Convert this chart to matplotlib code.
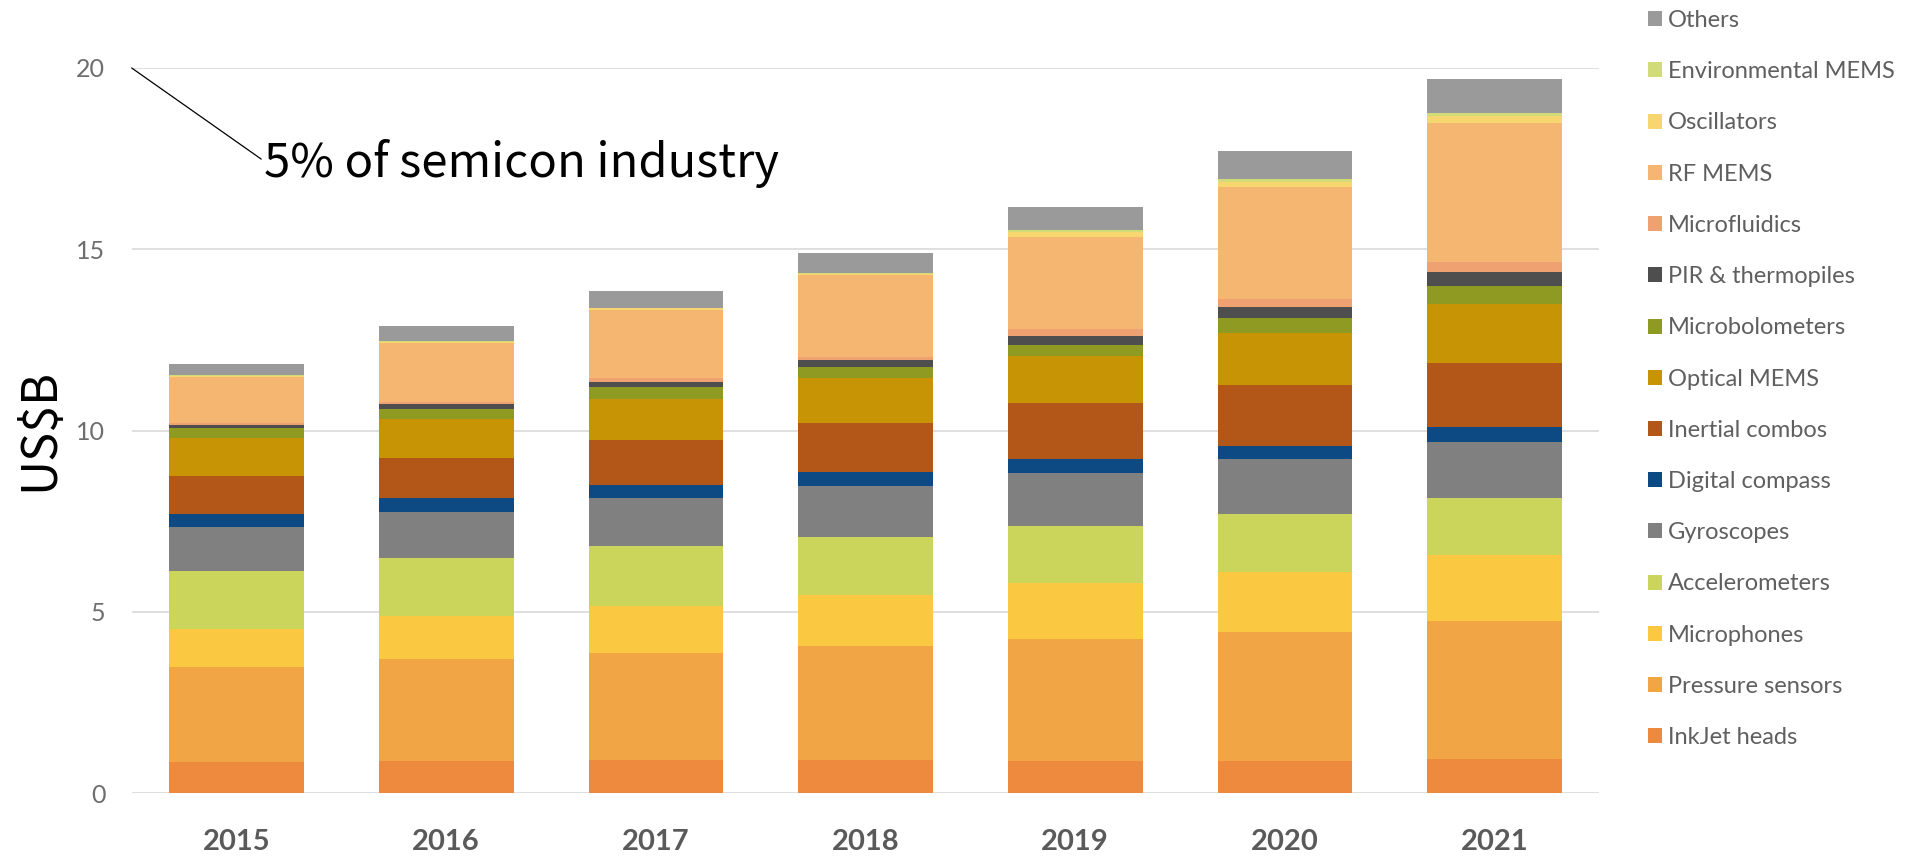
import matplotlib
matplotlib.use("Agg")
import matplotlib.pyplot as plt
from matplotlib.patches import Patch
import numpy as np

years = ["2015", "2016", "2017", "2018", "2019", "2020", "2021"]

categories = ["InkJet heads", "Pressure sensors", "Microphones", "Accelerometers",
              "Gyroscopes", "Digital compass", "Inertial combos", "Optical MEMS",
              "Microbolometers", "PIR & thermopiles", "Microfluidics", "RF MEMS",
              "Oscillators", "Environmental MEMS", "Others"]

inkjet          = [0.85, 0.89, 0.91, 0.91, 0.90, 0.90, 0.95]
pressure        = [2.62, 2.80, 2.97, 3.14, 3.36, 3.56, 3.79]
microphones     = [1.05, 1.20, 1.29, 1.41, 1.53, 1.65, 1.84]
accelerometers  = [1.61, 1.59, 1.64, 1.61, 1.58, 1.59, 1.57]
gyroscopes      = [1.22, 1.29, 1.32, 1.41, 1.46, 1.52, 1.53]
compass         = [0.35, 0.36, 0.36, 0.37, 0.38, 0.37, 0.41]
inertial        = [1.05, 1.11, 1.24, 1.37, 1.54, 1.68, 1.77]
optical         = [1.04, 1.07, 1.14, 1.23, 1.32, 1.41, 1.64]
microbolometers = [0.27, 0.29, 0.34, 0.31, 0.29, 0.43, 0.50]
pir             = [0.09, 0.13, 0.13, 0.19, 0.24, 0.30, 0.37]
microfluidics   = [0.07, 0.07, 0.11, 0.08, 0.20, 0.22, 0.28]
rf_mems         = [1.25, 1.61, 1.87, 2.25, 2.54, 3.09, 3.83]
oscillators     = [0.04, 0.04, 0.05, 0.05, 0.13, 0.15, 0.20]
environmental   = [0.02, 0.02, 0.02, 0.03, 0.05, 0.06, 0.08]
others          = [0.31, 0.41, 0.46, 0.55, 0.64, 0.79, 0.93]

series = [inkjet, pressure, microphones, accelerometers, gyroscopes, compass,
          inertial, optical, microbolometers, pir, microfluidics, rf_mems,
          oscillators, environmental, others]

colors = ["#ee8a3e", "#f2a545", "#fbc941", "#ccd55b", "#808080", "#0d4a84",
          "#b25717", "#c79406", "#8e9a22", "#4e4e4e", "#f0a171", "#f5b672",
          "#f7d56f", "#d1dc78", "#9a9a9a"]

yticks = [0, 5, 10, 15, 20]

W, H = 1908, 859
fig = plt.figure(figsize=(W / 100, H / 100), dpi=100)
ax = fig.add_axes([131.7 / W, 1 - 793.3 / H, (1599.4 - 131.7) / W, (793.3 - 68) / H])

x = np.arange(len(years))
bottom = np.zeros(len(years))
handles = []
for name, vals, col in zip(categories, series, colors):
    v = np.array(vals)
    ax.bar(x, v, width=0.642, bottom=bottom, color=col, zorder=3, linewidth=0)
    bottom += v
    handles.append(Patch(facecolor=col, edgecolor="none", label=name))

ax.set_xlim(-0.5, len(years) - 0.5)
ax.set_ylim(0, 20)
ax.set_yticks(yticks)
ax.set_yticklabels([str(t) for t in yticks], fontsize=18, color="#6e6e6e", family="Lato")
ax.set_xticks(x)
ax.set_xticklabels(years, fontsize=21, fontweight="bold", color="#5a5a5a", family="Lato")
ax.tick_params(axis="y", length=0, pad=19)
ax.tick_params(axis="x", length=0, pad=26)
ax.grid(axis="y", color="#d9d9d9", linewidth=1.2, zorder=0)
for s in ax.spines.values():
    s.set_visible(False)

ax.set_ylabel("US$B", fontsize=35, family="Noto Sans CJK SC", color="black")
ax.yaxis.set_label_coords(64 / W, 0.5, transform=fig.transFigure)

ax.annotate("5% of semicon industry", xy=(-0.5, 20), xycoords="data",
            xytext=(264 / W, 1 - 177 / H), textcoords="figure fraction",
            ha="left", va="baseline", fontsize=34, family="Noto Sans CJK SC",
            color="black",
            arrowprops=dict(arrowstyle="-", color="black", lw=0.9,
                            shrinkA=0, shrinkB=0, relpos=(0, 0.55)))

leg = fig.legend(handles[::-1], categories[::-1], loc="upper left",
                 bbox_to_anchor=(1648 / W, 1 - 10 / H), frameon=False,
                 prop={"family": "Lato", "size": 17}, labelcolor="#5f5f5f",
                 handlelength=0.6, handleheight=0.6, handletextpad=0.25,
                 labelspacing=1.28, borderpad=0, borderaxespad=0)

fig.savefig("out.png", dpi=100, facecolor="white")
